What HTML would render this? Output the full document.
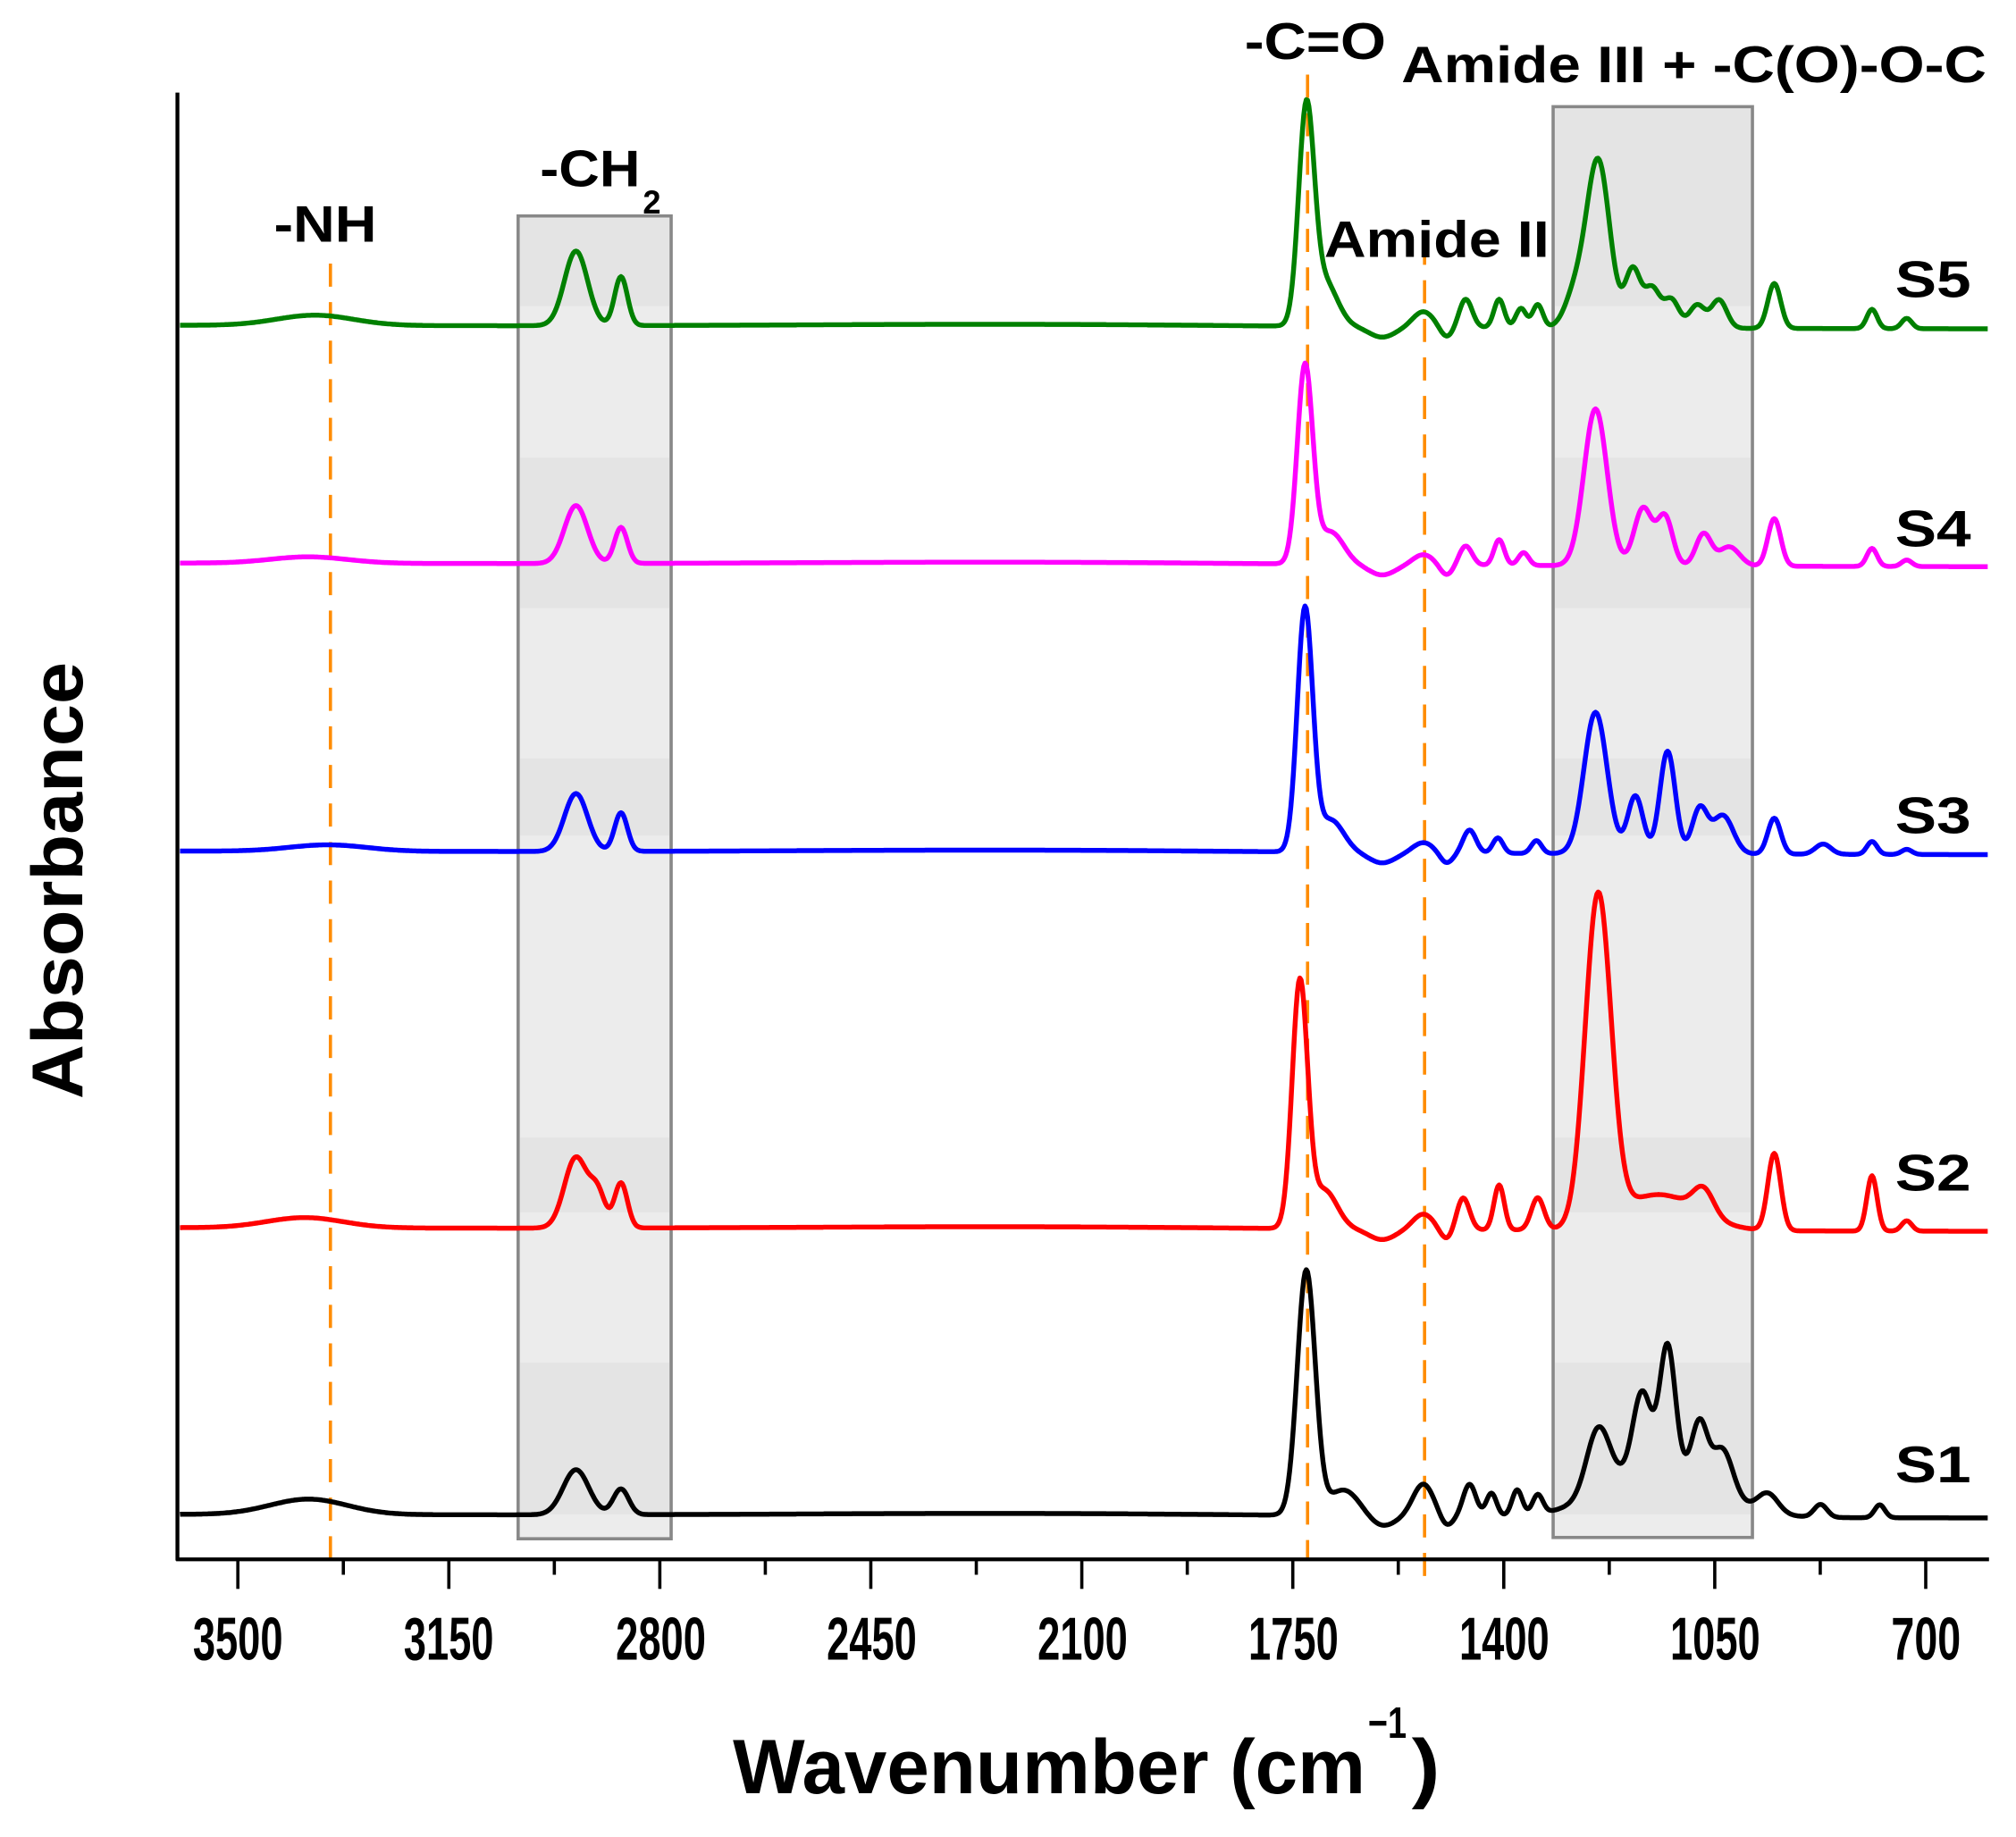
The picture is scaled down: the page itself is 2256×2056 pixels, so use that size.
<!DOCTYPE html>
<html><head><meta charset="utf-8"><style>html,body{margin:0;padding:0;background:#fff}svg{display:block}</style></head>
<body>
<svg id="s" xmlns="http://www.w3.org/2000/svg" width="2256" height="2056" viewBox="0 0 1568 1429" preserveAspectRatio="none" font-family="Liberation Sans, Arial, sans-serif" font-weight="bold">
<rect x="0" y="0" width="1568" height="1429" fill="#fff"/>
<g stroke="#888" stroke-width="2.5">
<rect x="403" y="168" width="119" height="1029" fill="#ececec"/>
<rect x="1208" y="83" width="155" height="1113" fill="#ececec"/>
</g>
<g fill="#e4e4e4">
<rect x="404.5" y="170" width="116" height="68"/><rect x="404.5" y="356" width="116" height="117"/><rect x="404.5" y="590" width="116" height="60"/><rect x="404.5" y="885" width="116" height="58"/><rect x="404.5" y="1060" width="116" height="118"/>
<rect x="1209.5" y="85" width="152" height="153"/><rect x="1209.5" y="356" width="152" height="117"/><rect x="1209.5" y="590" width="152" height="60"/><rect x="1209.5" y="885" width="152" height="58"/><rect x="1209.5" y="1060" width="152" height="118"/>
</g>
<g stroke="#ff8c00" stroke-width="2.5" stroke-dasharray="18,12">
<line x1="257" y1="205" x2="257" y2="1213"/>
<line x1="1017" y1="58" x2="1017" y2="1213"/>
<line x1="1108" y1="188" x2="1108" y2="1232"/>
</g>
<g id="spec" fill="none" stroke-width="3.8" stroke-linejoin="round"></g>
<g stroke="#000" stroke-width="3">
<line x1="138" y1="72" x2="138" y2="1214"/>
<line x1="137" y1="1213" x2="1547" y2="1213"/>
</g>
<g id="ticks" stroke="#000" stroke-width="2.5"></g>
<g font-size="47" text-anchor="middle">
<text x="185" y="1291" textLength="70" lengthAdjust="spacingAndGlyphs">3500</text>
<text x="349" y="1291" textLength="70" lengthAdjust="spacingAndGlyphs">3150</text>
<text x="514" y="1291" textLength="70" lengthAdjust="spacingAndGlyphs">2800</text>
<text x="678" y="1291" textLength="70" lengthAdjust="spacingAndGlyphs">2450</text>
<text x="842" y="1291" textLength="70" lengthAdjust="spacingAndGlyphs">2100</text>
<text x="1006" y="1291" textLength="70" lengthAdjust="spacingAndGlyphs">1750</text>
<text x="1170" y="1291" textLength="70" lengthAdjust="spacingAndGlyphs">1400</text>
<text x="1334" y="1291" textLength="70" lengthAdjust="spacingAndGlyphs">1050</text>
<text x="1498" y="1291" textLength="54" lengthAdjust="spacingAndGlyphs">700</text>
</g>
<text x="570" y="1395" font-size="60" textLength="492" lengthAdjust="spacingAndGlyphs">Wavenumber (cm</text>
<text x="1064" y="1352" font-size="34" textLength="30" lengthAdjust="spacingAndGlyphs">−1</text>
<text x="1098" y="1395" font-size="60" textLength="22" lengthAdjust="spacingAndGlyphs">)</text>
<text transform="translate(64,685) rotate(-90)" font-size="56" text-anchor="middle" textLength="340" lengthAdjust="spacingAndGlyphs">Absorbance</text>
<g font-size="40">
<text x="213" y="188" textLength="80" lengthAdjust="spacingAndGlyphs">-NH</text>
<text x="420" y="145" textLength="78" lengthAdjust="spacingAndGlyphs">-CH</text>
<text x="500" y="166" font-size="26" textLength="14" lengthAdjust="spacingAndGlyphs">2</text>
<text x="968" y="46" textLength="110" lengthAdjust="spacingAndGlyphs">-C=O</text>
<text x="1090" y="64" textLength="455" lengthAdjust="spacingAndGlyphs">Amide III + -C(O)-O-C</text>
<text x="1030" y="200" textLength="175" lengthAdjust="spacingAndGlyphs">Amide II</text>
<text x="1474" y="231" textLength="59" lengthAdjust="spacingAndGlyphs">S5</text>
<text x="1474" y="425" textLength="59" lengthAdjust="spacingAndGlyphs">S4</text>
<text x="1474" y="648" textLength="59" lengthAdjust="spacingAndGlyphs">S3</text>
<text x="1474" y="926" textLength="59" lengthAdjust="spacingAndGlyphs">S2</text>
<text x="1474" y="1153" textLength="59" lengthAdjust="spacingAndGlyphs">S1</text>
</g>
<script>
var NS="http://www.w3.org/2000/svg";
var t=document.getElementById("ticks");
for(var k=0;k<17;k++){var x=185+k*82.05;var l=document.createElementNS(NS,"line");l.setAttribute("x1",x);l.setAttribute("x2",x);l.setAttribute("y1",1213);l.setAttribute("y2",k%2?1225:1236);t.appendChild(l);}
var common=[[1075,-8,10],[1125,-8,5]];
var S=[
["#000",1178,[[240,12,30],[448,35,10],[483,20,6],[1016,190,7],[1045,20,12],[1107,25,8],[1143,25,5],[1160,18,4],[1180,20,4],[1196,15,4],[1243,50,9],[1277,60,7],[1297,95,6],[1322,45,6],[1340,35,8],[1290,40,40],[1375,15,8],[1416,10,5],[1462,10,4]]],
["#ff0000",955,[[237,8,30],[448,55,9],[465,25,6],[483,35,5],[1011,190,6],[1030,30,10],[1107,12,8],[1138,25,5],[1166,35,4],[1196,25,5],[1243,255,10],[1290,28,30],[1325,20,8],[1380,60,5],[1456,43,4],[1483,8,4]]],
["#0000ff",662,[[255,5,30],[448,45,9],[483,30,5],[1015,188,6],[1035,25,10],[1107,8,8],[1143,18,5],[1165,12,4],[1195,10,4],[1241,110,9],[1272,45,6],[1297,80,6],[1322,35,6],[1340,30,8],[1380,28,5],[1418,8,6],[1456,10,4],[1483,4,4]]],
["#ff00ff",438,[[240,5,30],[448,45,9],[483,28,5],[1015,153,6],[1035,25,10],[1107,8,8],[1140,15,5],[1166,20,4],[1185,10,4],[1241,122,9],[1278,45,7],[1295,38,6],[1325,25,6],[1345,15,8],[1380,37,5],[1456,14,4],[1483,5,4]]],
["#008000",253,[[245,8,30],[448,58,9],[483,38,5],[1016,163,6],[1030,35,10],[1107,12,8],[1140,22,5],[1166,22,4],[1183,15,4],[1196,18,4],[1225,25,8],[1243,130,9],[1270,45,6],[1285,30,6],[1300,22,6],[1320,18,6],[1337,22,6],[1380,35,5],[1456,15,4],[1483,8,4]]]
];
var g=document.getElementById("spec");
S.forEach(function(s){var pk=s[2].concat(common);var d="";for(var x=140;x<=1546;x+=1){var y=s[1]+(x-140)*0.002-2*Math.exp(-0.5*Math.pow((x-800)/180,2));pk.forEach(function(p){var u=(x-p[0])/p[2];y-=p[1]*Math.exp(-0.5*u*u);});d+=(x==140?"M":"L")+x+","+y.toFixed(1);}
var p=document.createElementNS(NS,"path");p.setAttribute("d",d);p.setAttribute("stroke",s[0]);g.appendChild(p);});
</script>
</svg>
</body></html>
